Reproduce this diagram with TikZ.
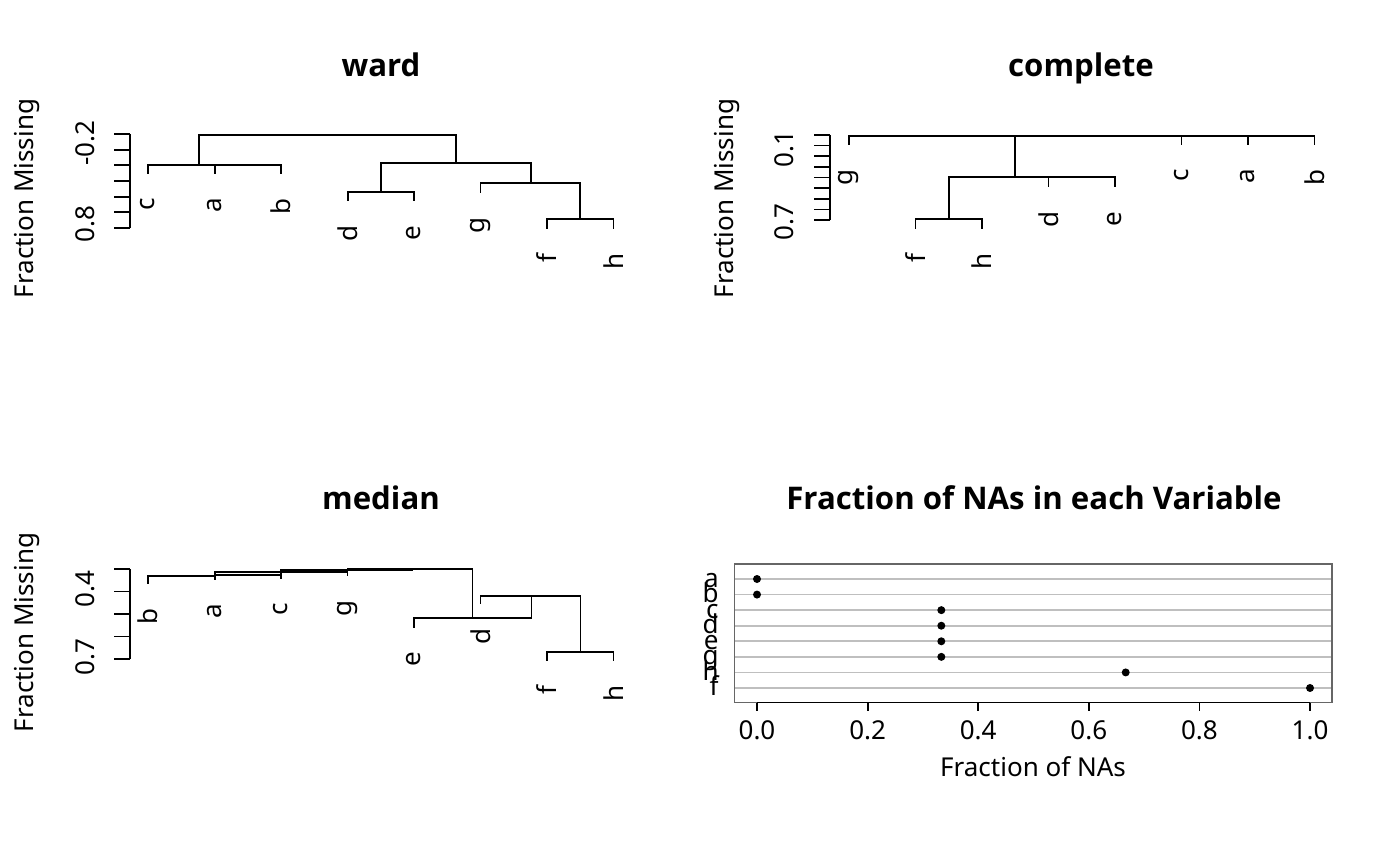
\documentclass[tikz,border=0pt]{standalone}
\usepackage{fontspec}
\setmainfont{Noto Sans}
\newfontfamily\titlefont{Open Sans}
\usetikzlibrary{calc}
\def\leaf#1(#2,#3)#4{\node[leaftext] (#1#4) at (#2,#3+25) {#4};}

\begin{document}
\begin{tikzpicture}[x=0.5pt, y=-0.5pt,
		dendro/.style={line width=0.9pt, line cap=rect},
		axisline/.style={line width=0.9pt},
		leaftext/.style={rotate=90, anchor=east, inner sep=0pt},
		ticklab/.style={rotate=90, anchor=base, inner sep=0pt},
		ylab/.style={rotate=90, anchor=base, inner sep=0pt},
		paneltitle/.style={anchor=base, inner sep=0pt, font=\fontsize{15.6}{18}\titlefont\bfseries},
		every node/.append style={font=\fontsize{13}{15}\selectfont},
		gridrow/.style={line width=0.8pt, color=black!25},
		boxline/.style={line width=0.8pt, color=black!60}]
		%%%%% START %%%%%
		\useasboundingbox (0,0) rectangle (1400,866);
		
		%%% ward
		\node[paneltitle] (tward) at (381,76.5) {ward};
		\node[ylab] (ywardlab) at (33,198.5) {Fraction Missing};
		\draw[axisline] (130,134) -- (130,228);
		\foreach \y in {134,149.7,165.3,181,196.7,212.3,228}
			\draw[axisline] (130,\y) -- (114,\y);
		\node[ticklab] (wtop) at (94,143) {-0.2};
		\node[ticklab] (wbot) at (94,224) {0.8};
		
		\draw[dendro] (199,165) -- (199,135) -- (456,135) -- (456,163);
		\draw[dendro] (148,173) -- (148,165) -- (248,165);
		\draw[dendro] (214.6,173) -- (214.6,165) -- (281,165) -- (281,173);
		\draw[dendro] (381,192) -- (381,163) -- (531,163) -- (531,183);
		\draw[dendro] (348,200) -- (348,192) -- (414,192) -- (414,200);
		\draw[dendro] (480.5,192) -- (480.5,183) -- (580,183) -- (580,219);
		\draw[dendro] (547,228) -- (547,219) -- (613.5,219) -- (613.5,228);
		\leaf w(148,173){c} \leaf w(214.6,173){a} \leaf w(281,173){b}
		\leaf w(348,200){d} \leaf w(414,200){e} \leaf w(480.5,192){g}
		\leaf w(547,228){f} \leaf w(613.5,228){h}
		
		%%% complete
		\node[paneltitle] (tcomplete) at (1081,76.5) {complete};
		\node[ylab] (ycomplab) at (733,198.5) {Fraction Missing};
		\draw[axisline] (830,135) -- (830,220);
		\foreach \y in {135,145.6,156.3,166.9,177.5,188.1,198.8,209.4,220}
			\draw[axisline] (830,\y) -- (814,\y);
		\node[ticklab] (ctop) at (793.5,149) {0.1};
		\node[ticklab] (cbot) at (793.5,222) {0.7};
		
		\draw[dendro] (849,144) -- (849,135.7) -- (1314.5,135.7) -- (1314.5,144);
		\draw[dendro] (1181.5,144) -- (1181.5,135.7);
		\draw[dendro] (1248,144) -- (1248,135.7);
		\draw[dendro] (1015,135.7) -- (1015,177);
		\draw[dendro] (949,219) -- (949,177) -- (1115,177) -- (1115,186);
		\draw[dendro] (1048.5,186) -- (1048.5,177);
		\draw[dendro] (915.5,228) -- (915.5,219) -- (982,219) -- (982,228);
		\leaf c(849,144){g} \leaf c(915.5,228){f} \leaf c(982,228){h}
		\leaf c(1048.5,186){d} \leaf c(1115,186){e} \leaf c(1181.5,144){c}
		\leaf c(1248,144){a} \leaf c(1314.5,144){b}
		
		%%% median
		\node[paneltitle] (tmedian) at (381,509.5) {median};
		\node[ylab] (ymedlab) at (33,632.5) {Fraction Missing};
		\draw[axisline] (130,569) -- (130,659);
		\foreach \y in {569,591.5,614,636.5,659}
			\draw[axisline] (130,\y) -- (114,\y);
		\node[ticklab] (mtop) at (94,589) {0.4};
		\node[ticklab] (mbot) at (94,657) {0.7};
		
		\draw[dendro] (148,583) -- (148,576) -- (214.6,576);
		\draw[dendro] (214.6,579) -- (214.6,572.3) -- (281,572.3);
		\draw[dendro] (214.6,575.3) -- (281,575.3);
		\draw[dendro] (281,578) -- (281,569.7) -- (347.5,569.7);
		\draw[dendro] (281,572.3) -- (347.5,572.3);
		\draw[dendro] (347.5,575) -- (347.5,568.7) -- (472.5,568.7) -- (472.5,618);
		\draw[dendro] (347.5,570.5) -- (412,570.5);
		\draw[dendro] (414,626.7) -- (414,618) -- (531.5,618) -- (531.5,595.7);
		\draw[dendro] (480.5,603.3) -- (480.5,595.7) -- (580.5,595.7) -- (580.5,651.7);
		\draw[dendro] (547,660) -- (547,651.7) -- (613.5,651.7) -- (613.5,660);
		\leaf m(148,583){b} \leaf m(214.6,579){a} \leaf m(281,578){c}
		\leaf m(347.5,575){g} \leaf m(414,626.7){e} \leaf m(480.5,603.3){d}
		\leaf m(547,660){f} \leaf m(613.5,660){h}
		
		%%% dot chart
		\node[paneltitle] (tdots) at (1034,509.5) {Fraction of NAs in each Variable};
		\foreach \lab/\v [count=\i from 0] in {a/0,b/0,c/0.3333,d/0.3333,e/0.3333,g/0.3333,h/0.6667,f/1} {
			\draw[gridrow] (734.5,579+15.57*\i) -- (1332,579+15.57*\i);
			\fill (757+553*\v,579+15.57*\i) circle (2pt);
			\node[anchor=base east, inner sep=0pt] (row\lab) at (719,587+15.57*\i) {\lab};
		}
		\draw[boxline] (734.5,564) rectangle (1332,702.5);
		\draw[axisline] (757,702.5) -- (1310,702.5);
		\foreach \v [count=\i from 0] in {0.0,0.2,0.4,0.6,0.8,1.0} {
			\draw[axisline] (757+110.6*\i,702.5) -- (757+110.6*\i,710.5);
			\node[anchor=base, inner sep=0pt] (xt\i) at (757+110.6*\i,739) {\v};
		}
		\node[anchor=base, inner sep=0pt] (xlab) at (1033,776.5) {Fraction of NAs};
		
		%%%%% END %%%%%
\end{tikzpicture}
\end{document}
